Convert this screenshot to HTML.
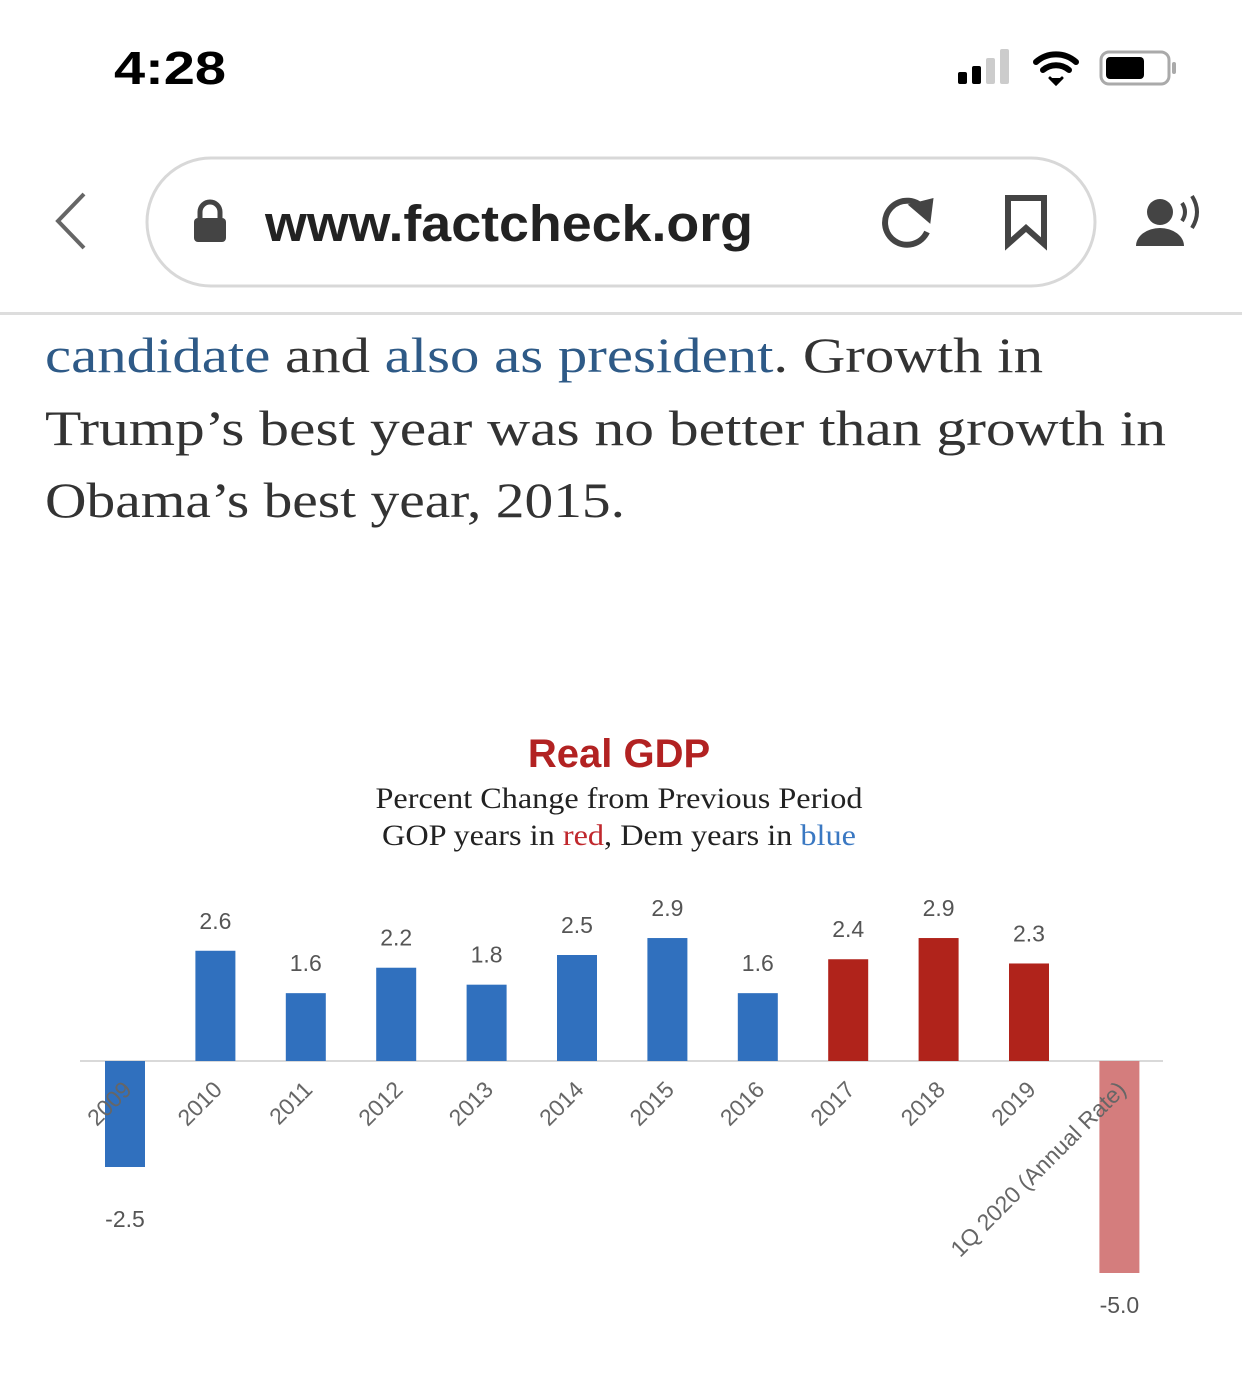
<!DOCTYPE html>
<html><head><meta charset="utf-8">
<style>
html,body{margin:0;padding:0;background:#fff;width:1242px;height:1387px;overflow:hidden}
svg text{font-family:"Liberation Sans",sans-serif}
.serif{font-family:"Liberation Serif",serif}
</style></head>
<body>
<svg id="page" width="1242" height="1387" viewBox="0 0 1242 1387" xmlns="http://www.w3.org/2000/svg">
  <rect x="0" y="0" width="1242" height="1387" fill="#fff"/>
  <text x="114" y="84" font-size="46" font-weight="bold" fill="#000" textLength="112" lengthAdjust="spacingAndGlyphs">4:28</text>
  <g>
    <rect x="958" y="72" width="9" height="12" rx="2" fill="#000"/>
    <rect x="972" y="66" width="9" height="18" rx="2" fill="#000"/>
    <rect x="986" y="58" width="9" height="26" rx="2" fill="#ccc"/>
    <rect x="1000" y="49" width="9" height="35" rx="2" fill="#ccc"/>
  </g>
  <g fill="none" stroke="#000" stroke-width="6" stroke-linecap="round">
    <path d="M1036 62 A30 30 0 0 1 1076 62"/>
    <path d="M1043 70 A20 20 0 0 1 1069 70"/>
    <path d="M1050 78 L1056 84 L1062 78" fill="#000" stroke-width="3"/>
  </g>
  <g>
    <rect x="1101" y="52" width="68" height="32" rx="8" fill="none" stroke="#aaa" stroke-width="3"/>
    <rect x="1106" y="57" width="38" height="22" rx="4" fill="#000"/>
    <rect x="1172" y="62" width="4" height="12" rx="2" fill="#aaa"/>
  </g>
  <path d="M84 194 L58 221 L84 248" fill="none" stroke="#666" stroke-width="4"/>
  <rect x="147" y="158" width="948" height="128" rx="64" fill="#fff" stroke="#d8d8d8" stroke-width="3"/>
  <g>
    <path d="M200 222 V212 a10 10 0 0 1 20 0 V222" fill="none" stroke="#444" stroke-width="5"/>
    <rect x="194" y="218" width="32" height="24" rx="4" fill="#444"/>
  </g>
  <text x="265" y="241" font-size="51" font-weight="bold" fill="#222" textLength="488" lengthAdjust="spacingAndGlyphs">www.factcheck.org</text>
  <g fill="none" stroke="#444" stroke-width="6">
    <path d="M925 210 A22 22 0 1 0 927 232"/>
    <path d="M914 206 L930 202 L928 218 Z" fill="#444"/>
  </g>
  <path d="M1008 198 H1044 V244 L1026 228 L1008 244 Z" fill="none" stroke="#444" stroke-width="6"/>
  <g>
    <circle cx="1160" cy="212" r="13" fill="#444"/>
    <path d="M1136 246 a24 18 0 0 1 48 0 Z" fill="#444"/>
    <path d="M1182 203 q6 9 0 18" fill="none" stroke="#444" stroke-width="4"/>
    <path d="M1192 196 q10 16 0 32" fill="none" stroke="#444" stroke-width="4"/>
  </g>
  <rect x="0" y="312" width="1242" height="3" fill="#ddd"/>
  <g class="serif" font-size="50" fill="#333">
    <text class="serif" x="45" y="372" textLength="998" lengthAdjust="spacingAndGlyphs"><tspan fill="#2e5a87">candidate</tspan> and <tspan fill="#2e5a87">also as president</tspan>. Growth in</text>
    <text class="serif" x="45" y="445" textLength="1121" lengthAdjust="spacingAndGlyphs">Trump’s best year was no better than growth in</text>
    <text class="serif" x="45" y="517" textLength="580" lengthAdjust="spacingAndGlyphs">Obama’s best year, 2015.</text>
  </g>
  <text x="619" y="767" text-anchor="middle" font-size="40" font-weight="bold" fill="#b22222">Real GDP</text>
  <text class="serif" x="619" y="808" text-anchor="middle" font-size="30" fill="#222" textLength="487" lengthAdjust="spacingAndGlyphs">Percent Change from Previous Period</text>
  <text class="serif" x="619" y="845" text-anchor="middle" font-size="30" fill="#222" textLength="474" lengthAdjust="spacingAndGlyphs">GOP years in <tspan fill="#c0282d">red</tspan>, Dem years in <tspan fill="#3a78c2">blue</tspan></text>
  <g id="chart"></g>
</svg>
<script>
const categories = ["2009","2010","2011","2012","2013","2014","2015","2016","2017","2018","2019","1Q 2020 (Annual Rate)"];
const values = [-2.5,2.6,1.6,2.2,1.8,2.5,2.9,1.6,2.4,2.9,2.3,-5.0];
const valueLabels = ["-2.5","2.6","1.6","2.2","1.8","2.5","2.9","1.6","2.4","2.9","2.3","-5.0"];
const parties = ["D","D","D","D","D","D","D","D","R","R","R","Rq"];

const NS = "http://www.w3.org/2000/svg";
const g = document.getElementById("chart");
const baseY = 1061, pxPerUnit = 42.4, x0 = 125, step = 90.4, barW = 40;
function xScale(i){ return x0 + i*step; }
function yScale(v){ return baseY - v*pxPerUnit; }
const colors = {D:"#3070be", R:"#b0231b", Rq:"#d47d7d"};

const axis = document.createElementNS(NS,"line");


axis.setAttribute("x1",80); axis.setAttribute("x2",1163);
axis.setAttribute("y1",baseY); axis.setAttribute("y2",baseY);
axis.setAttribute("stroke","#d9d9d9"); axis.setAttribute("stroke-width",2);
g.appendChild(axis);

categories.forEach((c,i)=>{
  const v = values[i], cx = xScale(i);
  const top = Math.min(yScale(v), baseY), h = Math.abs(yScale(v)-baseY);
  const r = document.createElementNS(NS,"rect");
  
  
  r.setAttribute("x",cx-barW/2); r.setAttribute("y",top);
  r.setAttribute("width",barW); r.setAttribute("height",h);
  r.setAttribute("fill",colors[parties[i]]);
  g.appendChild(r);

  const t = document.createElementNS(NS,"text");
  
  
  t.setAttribute("x",cx); t.setAttribute("text-anchor","middle");
  t.setAttribute("font-size","23"); t.setAttribute("fill","#555");
  if (v >= 0) t.setAttribute("y", yScale(v) - 22);
  else t.setAttribute("y", yScale(v) + (i===0 ? 60 : 40));
  t.textContent = valueLabels[i];
  g.appendChild(t);

  const lx = cx + 8, ly = baseY + 30;
  const tl = document.createElementNS(NS,"text");
  
  
  tl.setAttribute("x",lx); tl.setAttribute("y",ly);
  tl.setAttribute("text-anchor","end");
  tl.setAttribute("font-size","23"); tl.setAttribute("fill","#666");
  tl.setAttribute("transform","rotate(-45 "+lx+" "+ly+")");
  tl.textContent = c;
  g.appendChild(tl);
});
</script>
</body></html>
